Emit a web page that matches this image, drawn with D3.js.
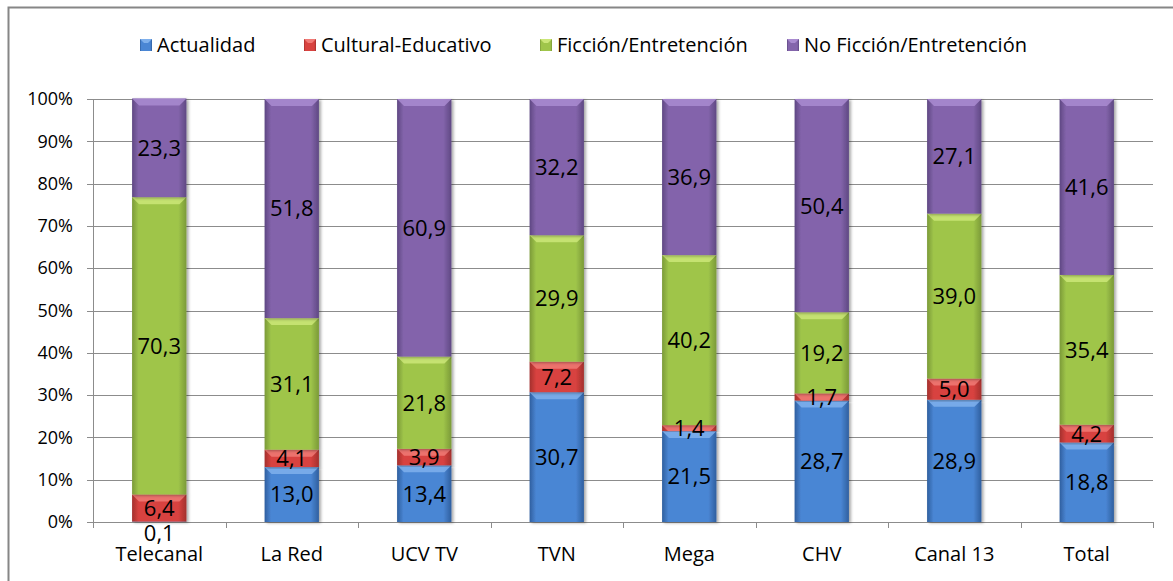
<!DOCTYPE html>
<html>
<head>
<meta charset="utf-8">
<script src="https://cdn.jsdelivr.net/npm/d3@7"></script>
<style>
  body { margin: 0; background: #fff; }
  svg { display: block; font-family: "Open Sans", "Noto Sans", sans-serif; }
</style>
</head>
<body>
<div id="chart"></div>
<script>
// data
var canales = ["Telecanal", "La Red", "UCV TV", "TVN", "Mega", "CHV", "Canal 13", "Total"];
var series = ["Actualidad", "Cultural-Educativo", "Ficción/Entretención", "No Ficción/Entretención"];
var actualidad = [0.1, 13.0, 13.4, 30.7, 21.5, 28.7, 28.9, 18.8];
var cultural = [6.4, 4.1, 3.9, 7.2, 1.4, 1.7, 5.0, 4.2];
var ficcion = [70.3, 31.1, 21.8, 29.9, 40.2, 19.2, 39.0, 35.4];
var noFiccion = [23.3, 51.8, 60.9, 32.2, 36.9, 50.4, 27.1, 41.6];
var yTicks = [0, 0.1, 0.2, 0.3, 0.4, 0.5, 0.6, 0.7, 0.8, 0.9, 1];

var colors = [
    { mid: "#4a86d4", edge: "#2f5f9f", top: "#7fb0ec" },
    { mid: "#d8423f", edge: "#a3302d", top: "#f07a76" },
    { mid: "#9fc54a", edge: "#7b9a38", top: "#cbe678" },
    { mid: "#8364ab", edge: "#5f4883", top: "#a98bd0" }
];

var W = 1173, H = 581;
var margin = { top: 99, right: 20, bottom: 59, left: 93 };
var width = 1153 - margin.left,
    height = 522 - margin.top;

var svg = d3.select("#chart").append("svg")
    .attr("width", W)
    .attr("height", H);

var defs = svg.append("defs");
colors.forEach(function(c, i) {
    var gr = defs.append("linearGradient")
        .attr("id", "grad" + i)
        .attr("x1", "0").attr("x2", "1").attr("y1", "0").attr("y2", "0");
    gr.append("stop").attr("offset", "0%").attr("stop-color", c.edge);
    gr.append("stop").attr("offset", "12%").attr("stop-color", c.mid);
    gr.append("stop").attr("offset", "85%").attr("stop-color", c.mid);
    gr.append("stop").attr("offset", "100%").attr("stop-color", c.edge);
});
var shadow = defs.append("filter").attr("id", "shadow")
    .attr("x", "-20%").attr("y", "-5%").attr("width", "150%").attr("height", "115%");
shadow.append("feDropShadow")
    .attr("dx", 2).attr("dy", 1).attr("stdDeviation", 1.5)
    .attr("flood-color", "#000").attr("flood-opacity", 0.35);

// outer frame (only top and left edges fall inside the picture)
svg.append("rect")
    .attr("x", 8.5).attr("y", 7.5)
    .attr("width", 1200).attr("height", 600)
    .attr("fill", "none")
    .attr("stroke", "#868686")
    .attr("stroke-width", 2);

var g = svg.append("g").attr("transform", "translate(" + margin.left + "," + margin.top + ")");

var x = d3.scaleBand()
    .domain(canales)
    .range([0, width])
    .paddingInner(0.59)
    .paddingOuter(0.295);

var y = d3.scaleLinear()
    .domain([0, 1])
    .range([height, 0]);

// gridlines
g.append("g")
    .selectAll("line")
    .data(yTicks)
    .enter().append("line")
    .attr("x1", -6)
    .attr("x2", width)
    .attr("y1", function(d) { return Math.round(y(d)) + 0.5; })
    .attr("y2", function(d) { return Math.round(y(d)) + 0.5; })
    .attr("stroke", "#8c8c8c")
    .attr("stroke-width", 1);

// y axis
var yAxis = g.append("g")
    .call(d3.axisLeft(y).tickValues(yTicks).tickFormat(d3.format(".0%")).tickSize(6).tickPadding(14));
yAxis.select(".domain").attr("stroke", "#8c8c8c");
yAxis.selectAll(".tick line").remove();
yAxis.selectAll("text")
    .attr("font-size", 18)
    .attr("fill", "#000")
    .attr("font-family", "\"Open Sans\", sans-serif");

// x axis
var xAxis = g.append("g")
    .attr("transform", "translate(0," + height + ")")
    .call(d3.axisBottom(x).tickSize(0).tickPadding(25));
xAxis.select(".domain").attr("stroke", "#8c8c8c");
xAxis.selectAll("text")
    .attr("font-size", 20)
    .attr("fill", "#000")
    .attr("font-family", "\"Open Sans\", sans-serif");
var step = x.step();
xAxis.selectAll(".sep")
    .data(d3.range(canales.length + 1))
    .enter().append("line")
    .attr("x1", function(i) { return Math.round(i * step) + 0.5; })
    .attr("x2", function(i) { return Math.round(i * step) + 0.5; })
    .attr("y1", 0)
    .attr("y2", 6)
    .attr("stroke", "#8c8c8c");

// stacked data
var rows = canales.map(function(c, i) {
    return { canal: c, s0: actualidad[i], s1: cultural[i], s2: ficcion[i], s3: noFiccion[i] };
});
var stack = d3.stack()
    .keys(["s0", "s1", "s2", "s3"])
    .value(function(d, k) { return d[k] / 100; });
var stacked = stack(rows);

var bw = x.bandwidth();

stacked.forEach(function(layer, si) {
    var lg = g.append("g");
    lg.selectAll("rect")
        .data(layer)
        .enter().append("rect")
        .attr("x", function(d) { return x(d.data.canal); })
        .attr("y", function(d) { return y(d[1]); })
        .attr("width", bw)
        .attr("height", function(d) { return y(d[0]) - y(d[1]); })
        .attr("fill", "url(#grad" + si + ")")
        .attr("filter", "url(#shadow)");
    // bevel highlight on top of each segment
    lg.selectAll("path")
        .data(layer)
        .enter().append("path")
        .attr("d", function(d) {
            var x0 = x(d.data.canal), y0 = y(d[1]);
            var h = Math.min(7, y(d[0]) - y(d[1]));
            return "M" + x0 + "," + y0 + "L" + (x0 + bw) + "," + y0 +
                "L" + (x0 + bw - h) + "," + (y0 + h) + "L" + (x0 + h) + "," + (y0 + h) + "Z";
        })
        .attr("fill", colors[si].top)
        .attr("opacity", 0.85);
});

// labels, nudged down when they would overlap
var fmt = function(v) { return d3.format(".1f")(v).replace(".", ","); };
canales.forEach(function(c, ci) {
    var pos = stacked.map(function(layer, si) {
        var d = layer[ci];
        return { v: d.data["s" + si], cy: (y(d[0]) + y(d[1])) / 2 };
    });
    for (var k = 0; k < pos.length - 1; k++) {
        if (pos[k].cy - pos[k + 1].cy < 20) pos[k].cy = pos[k + 1].cy + 25;
    }
    g.selectAll(".lab" + ci)
        .data(pos)
        .enter().append("text")
        .attr("x", x(c) + bw / 2)
        .attr("y", function(d) { return d.cy; })
        .attr("dy", "0.36em")
        .attr("text-anchor", "middle")
        .attr("font-size", 22)
        .attr("fill", "#000")
        .text(function(d) { return fmt(d.v); });
});

// legend
var legendX = [140, 304, 540, 787];
var legend = svg.append("g")
    .selectAll("g")
    .data(series)
    .enter().append("g")
    .attr("transform", function(d, i) { return "translate(" + legendX[i] + ",39)"; });
legend.append("rect")
    .attr("width", 12)
    .attr("height", 12)
    .attr("fill", function(d, i) { return "url(#grad" + i + ")"; });
legend.append("path")
    .attr("d", "M0,0L12,0L8,4L4,4Z")
    .attr("fill", function(d, i) { return colors[i].top; });
legend.append("text")
    .attr("x", 17)
    .attr("y", 6)
    .attr("dy", "0.35em")
    .attr("font-size", 20)
    .attr("fill", "#000")
    .text(function(d) { return d; });
</script>
</body>
</html>
